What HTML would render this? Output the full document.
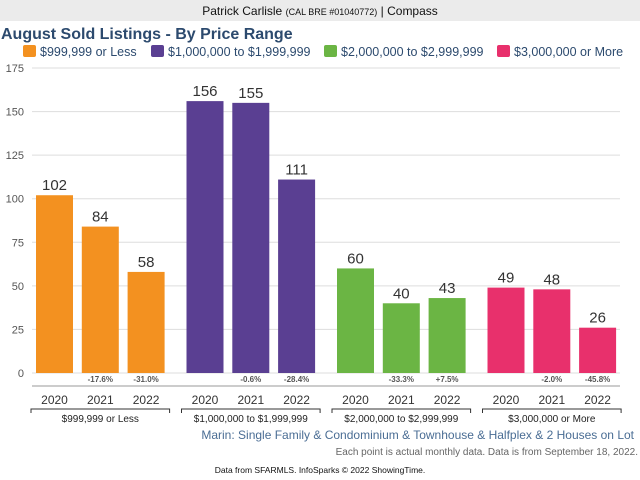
<!DOCTYPE html>
<html><head><meta charset="utf-8"><style>
body{margin:0;width:640px;height:480px;overflow:hidden;background:#fff;font-family:"Liberation Sans",sans-serif;}
</style></head><body>
<svg width="640" height="480" style="display:block">
<rect x="0" y="0" width="640" height="21" fill="#ebebeb"/>
<text x="320" y="15" text-anchor="middle" font-size="12" fill="#111">Patrick Carlisle <tspan font-size="9">(CAL BRE #01040772)</tspan> | Compass</text>
<text x="1" y="39" font-size="16" font-weight="bold" fill="#2c4a6e">August Sold Listings - By Price Range</text>
<g id="legend"></g>
<g id="grid"></g><g id="bars"></g><g id="labels"></g>
<line x1="32" y1="386" x2="620" y2="386" stroke="#999"/>
<text x="634" y="439" text-anchor="end" font-size="12" fill="#4a6d94">Marin: Single Family &amp; Condominium &amp; Townhouse &amp; Halfplex &amp; 2 Houses on Lot</text>
<text x="638" y="455" text-anchor="end" font-size="10" fill="#666">Each point is actual monthly data. Data is from September 18, 2022.</text>
<text x="320" y="473" text-anchor="middle" font-size="8.5" fill="#111">Data from SFARMLS. InfoSparks © 2022 ShowingTime.</text>
</svg>
<script>
const groups=["$999,999 or Less","$1,000,000 to $1,999,999","$2,000,000 to $2,999,999","$3,000,000 or More"];
const years=["2020","2021","2022"];
const values=[[102,84,58],[156,155,111],[60,40,43],[49,48,26]];
const changes=[["","-17.6%","-31.0%"],["","-0.6%","-28.4%"],["","-33.3%","+7.5%"],["","-2.0%","-45.8%"]];
const colors=["#f39120","#5a3f92","#6bb544","#e8306c"];
const yTicks=[0,25,50,75,100,125,150,175];
const NS="http://www.w3.org/2000/svg";
const y=v=>373-v*305/175;
const bx=(g,i)=>36+g*150.5+i*45.8;
const BW=37;
function mk(tag,attrs,parent,txt){const e=document.createElementNS(NS,tag);for(const k in attrs)e.setAttribute(k,attrs[k]);if(txt!==undefined)e.textContent=txt;document.getElementById(parent).appendChild(e);return e;}
yTicks.forEach(t=>{
 const l=mk('line',{x1:32,x2:620,y1:y(t),y2:y(t),stroke:'#ddd'},'grid');
 
 
 const tx=mk('text',{x:24,y:y(t)+4,'text-anchor':'end','font-size':11,fill:'#555'},'grid',t);
 
 
});
const lgx=[23,151,324,497];
groups.forEach((g,gi)=>{
 const r=mk('rect',{x:lgx[gi],y:45,width:13,height:12,rx:2,fill:colors[gi]},'legend');
 
 
 const t=mk('text',{x:lgx[gi]+17,y:56,'font-size':12.5,fill:'#2c4a6e'},'legend',g);
 
 
 values[gi].forEach((v,i)=>{
  const x=bx(gi,i);
  const b=mk('rect',{x:x,y:y(v),width:BW,height:y(0)-y(v),fill:colors[gi]},'bars');
  
  
  const vl=mk('text',{x:x+BW/2,y:y(v)-5,'text-anchor':'middle','font-size':15,fill:'#333'},'labels',v);
  
  
  if(changes[gi][i]){const c=mk('text',{x:x+BW/2,y:382,'text-anchor':'middle','font-size':8,'font-weight':'bold',fill:'#555'},'labels',changes[gi][i]);
  
  }
  const yl=mk('text',{x:x+BW/2,y:404,'text-anchor':'middle','font-size':12,fill:'#333'},'labels',years[i]);
  
  
 });
 const x0=bx(gi,0)-5,x1=bx(gi,2)+BW+5;
 const br=mk('path',{d:`M${x0} 413 V409 H${x1} V413`,fill:'none',stroke:'#333'},'labels');
 
 
 const gl=mk('text',{x:(x0+x1)/2,y:422,'text-anchor':'middle','font-size':10,fill:'#222'},'labels',g);
 
 
});
</script>
</body></html>
